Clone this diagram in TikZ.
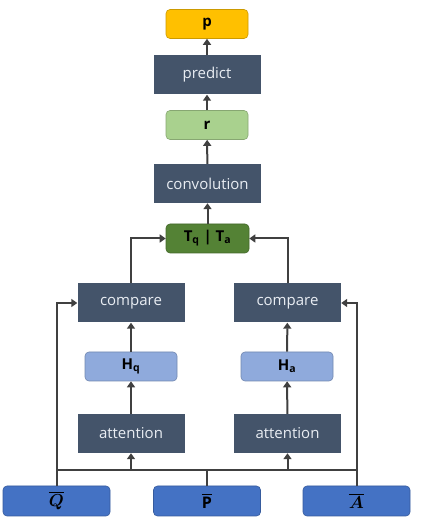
\documentclass[tikz,border=0pt]{standalone}
\usepackage{fontspec}
\setmainfont{Open Sans}
\usepackage{amsmath,amssymb}
\usepackage{tikz}
\usetikzlibrary{arrows.meta}
\definecolor{darkcolor}{HTML}{44546A}
\definecolor{darktext}{HTML}{E9EDF3}
\definecolor{outcolor}{HTML}{FFC000}
\definecolor{repcolor}{HTML}{A9D18E}
\definecolor{catcolor}{HTML}{548235}
\definecolor{hidcolor}{HTML}{8FAADC}
\definecolor{incolor}{HTML}{4472C4}
\definecolor{linecolor}{HTML}{404040}
\tikzset{
  flow dark/.style={fill=darkcolor,text=darktext,minimum width=107pt,minimum height=39pt,inner sep=0pt,font=\fontsize{15}{17}\selectfont},
  flow soft/.style={rounded corners=4pt,draw=#1!80!black,line width=.6pt,fill=#1,minimum width=82pt,minimum height=29pt,inner sep=0pt,font=\fontsize{15}{17}\selectfont\bfseries},
  flow input/.style={flow soft=incolor,minimum width=107pt,minimum height=30pt,font=\fontsize{16}{18}\selectfont\bfseries\boldmath},
  flow wire/.style={draw=linecolor,line width=2pt},
  flow arrow/.style={flow wire,-{Triangle[length=6pt,width=8pt]}}
}
\begin{document}
\begin{tikzpicture}[x=1pt,y=1pt]
  \useasboundingbox (0,0) rectangle (421,520);
  % top part
  \node[flow soft=outcolor] (p) at (207,496) {p};
  \node[flow dark] (predict) at (207,445) {predict};
  \node[flow soft=repcolor] (r) at (207,395) {r};
  \node[flow dark] (conv) at (207.5,336.5) {convolution};
  \node[flow soft=catcolor,minimum width=83pt] (concat) at (207.5,281.5) {T$_\textbf{q}$ \textbf{|} T$_\textbf{a}$};
  % two branches
  \node[flow dark] (cmpq) at (131,217) {compare};
  \node[flow dark] (cmpa) at (287.5,217) {compare};
  \node[flow soft=hidcolor,minimum width=92pt] (hq) at (131,153.5) {H$_\textbf{q}$};
  \node[flow soft=hidcolor,minimum width=92pt] (ha) at (287,153.5) {H$_\textbf{a}$};
  \node[flow dark] (attq) at (131,86.5) {attention};
  \node[flow dark] (atta) at (287.5,86.5) {attention};
  % inputs
  \node[flow input] (qbar) at (56.5,19) {$\overline{\boldsymbol{Q}}$};
  \node[flow input] (pbar) at (207,19) {$\overline{\textbf{P}}$};
  \node[flow input] (abar) at (356.5,19) {$\overline{\boldsymbol{A}}$};
  \coordinate (bus) at (0,50);
  \draw[flow wire] (qbar.north |- bus) -- (abar.north |- bus);
  \draw[flow wire] (pbar.north) -- (pbar.north |- bus);
  \draw[flow arrow] (qbar.north) |- (cmpq.west);
  \draw[flow arrow] (abar.north) |- (cmpa.east);
  \draw[flow arrow] (attq.south |- bus) -- (attq.south);
  \draw[flow arrow] (atta.south |- bus) -- (atta.south);
  \draw[flow arrow] (attq) -- (hq);
  \draw[flow arrow] (atta) -- (ha);
  \draw[flow arrow] (hq) -- (cmpq);
  \draw[flow arrow] (ha) -- (cmpa);
  \draw[flow arrow] (cmpq.north) |- (concat.west);
  \draw[flow arrow] (cmpa.north) |- (concat.east);
  \draw[flow arrow] (concat) -- (conv);
  \draw[flow arrow] (conv) -- (r);
  \draw[flow arrow] (r) -- (predict);
  \draw[flow arrow] (predict) -- (p);
\end{tikzpicture}
\end{document}
